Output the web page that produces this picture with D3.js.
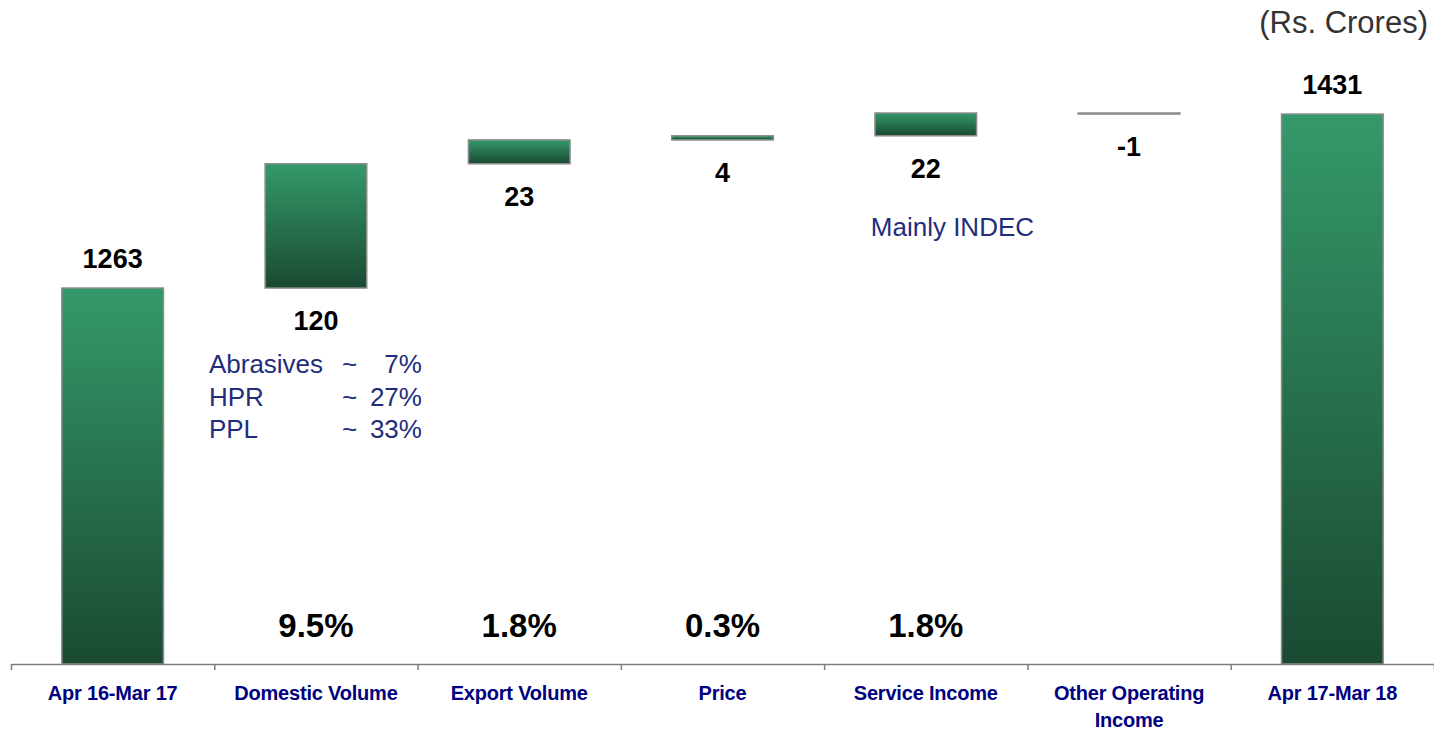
<!DOCTYPE html>
<html lang="en">
<head>
    <meta charset="UTF-8">
    <title>Revenue Walk</title>
    <script src="https://cdnjs.cloudflare.com/ajax/libs/d3/7.8.5/d3.min.js"></script>
    <style>
        body { margin: 0; background: #fff; font-family: "Liberation Sans", Arial, sans-serif; }
    </style>
</head>
<body>
    <div id="chart"></div>

    <script>
        // Chart data
        var categories = ["Apr 16-Mar 17", "Domestic Volume", "Export Volume", "Price",
                          "Service Income", "Other Operating Income", "Apr 17-Mar 18"];
        var values = [1263, 120, 23, 4, 22, -1, 1431];
        var isTotal = [true, false, false, false, false, false, true];
        var growthLabels = ["", "9.5%", "1.8%", "0.3%", "1.8%", "", ""];
        var domesticNotes = [["Abrasives", "~", "7%"], ["HPR", "~", "27%"], ["PPL", "~", "33%"]];
        var serviceNote = "Mainly INDEC";
        var unitLabel = "(Rs. Crores)";
        var axisFloor = 900;

        var width = 1434, height = 731;
        var axisY = 664;

        // build start/end for each step of the waterfall
        var running = 0;
        var steps = categories.map(function(c, i) {
            var s, e;
            if (isTotal[i]) { s = axisFloor; e = values[i]; running = values[i]; }
            else { s = running; e = running + values[i]; running = e; }
            return {cat: c, value: values[i], start: s, end: e, total: isTotal[i], growth: growthLabels[i]};
        });

        var svg = d3.select("#chart").append("svg")
            .attr("width", width)
            .attr("height", height);

        var defs = svg.append("defs");
        var grad = defs.append("linearGradient")
            .attr("id", "barGrad")
            .attr("x1", 0).attr("y1", 0).attr("x2", 0).attr("y2", 1);
        grad.append("stop").attr("offset", "0%").attr("stop-color", "#34996a");
        grad.append("stop").attr("offset", "100%").attr("stop-color", "#1a4a32");

        var x = d3.scaleBand()
            .domain(categories)
            .range([11, 1434])
            .paddingInner(0.5)
            .paddingOuter(0.25);

        var y = d3.scaleLinear()
            .domain([axisFloor, d3.max(steps, function(d) { return Math.max(d.start, d.end); })])
            .range([axisY, 113]);

        // bars
        svg.selectAll(".bar")
            .data(steps)
            .enter().append("rect")
            .attr("class", "bar")
            .attr("x", function(d) { return x(d.cat); })
            .attr("width", x.bandwidth())
            .attr("y", function(d) { return y(Math.max(d.start, d.end)); })
            .attr("height", function(d) { return Math.max(1, Math.abs(y(d.start) - y(d.end))); })
            .attr("fill", function(d) { return d.value < 0 ? "#8c8c8c" : "url(#barGrad)"; })
            .attr("stroke", "#8c8c8c")
            .attr("stroke-width", 1.5);

        // axis with ticks at category boundaries
        var edge = d3.scaleLinear().domain([0, categories.length]).range([11, 1434]);
        var axis = svg.append("g")
            .attr("transform", "translate(0," + axisY + ")")
            .call(d3.axisBottom(edge).tickValues(d3.range(categories.length + 1))
                .tickFormat("").tickSize(6).tickSizeOuter(0));
        axis.select(".domain").attr("stroke", "#7f7f7f").attr("stroke-width", 1.5);
        axis.selectAll(".tick line").attr("stroke", "#7f7f7f").attr("stroke-width", 1.5);

        // category labels (wrapped)
        var catText = svg.selectAll(".cat")
            .data(steps)
            .enter().append("text")
            .attr("class", "cat")
            .attr("text-anchor", "middle")
            .attr("font-size", 20)
            .attr("font-weight", "bold")
            .attr("fill", "#000080")
            .attr("letter-spacing", -0.2);
        catText.each(function(d) {
            var words = d.cat.split(" ");
            var lines = [words[0]];
            words.slice(1).forEach(function(w) {
                var test = lines[lines.length - 1] + " " + w;
                if (test.length > 16) lines.push(w); else lines[lines.length - 1] = test;
            });
            var t = d3.select(this);
            lines.forEach(function(l, i) {
                t.append("tspan")
                    .attr("x", x(d.cat) + x.bandwidth() / 2)
                    .attr("y", 700 + i * 27)
                    .text(l);
            });
        });

        // value labels
        svg.selectAll(".val")
            .data(steps)
            .enter().append("text")
            .attr("class", "val")
            .attr("x", function(d) { return x(d.cat) + x.bandwidth() / 2; })
            .attr("y", function(d) {
                return d.total ? y(d.end) - 20 : y(Math.min(d.start, d.end)) + 42;
            })
            .attr("text-anchor", "middle")
            .attr("font-size", 27)
            .attr("font-weight", "bold")
            .attr("fill", "#000")
            .text(function(d) { return d.value; });

        // growth percentages
        svg.selectAll(".growth")
            .data(steps.filter(function(d) { return d.growth; }))
            .enter().append("text")
            .attr("class", "growth")
            .attr("x", function(d) { return x(d.cat) + x.bandwidth() / 2; })
            .attr("y", axisY - 27)
            .attr("text-anchor", "middle")
            .attr("font-size", 33)
            .attr("font-weight", "bold")
            .attr("fill", "#000")
            .text(function(d) { return d.growth; });

        // domestic breakdown note
        var dom = steps[1];
        var domCx = x(dom.cat) + x.bandwidth() / 2;
        var domBottom = y(dom.start);
        var notes = svg.append("g")
            .attr("font-size", 26)
            .attr("fill", "#1f2d7b");
        domesticNotes.forEach(function(n, i) {
            var by = domBottom + 85 + i * 32.5;
            notes.append("text").attr("x", domCx - 107).attr("y", by).text(n[0]);
            notes.append("text").attr("x", domCx + 26).attr("y", by).text(n[1]);
            notes.append("text").attr("x", domCx + 106).attr("y", by)
                .attr("text-anchor", "end").text(n[2]);
        });

        // service income note
        var svc = steps[4];
        svg.append("text")
            .attr("x", x(svc.cat) + x.bandwidth() / 2 - 55)
            .attr("y", y(svc.start) + 100)
            .attr("font-size", 26)
            .attr("fill", "#1f2d7b")
            .text(serviceNote);

        // unit label
        svg.append("text")
            .attr("x", 1428)
            .attr("y", 33)
            .attr("text-anchor", "end")
            .attr("font-size", 31)
            .attr("fill", "#333")
            .text(unitLabel);
    </script>
</body>
</html>
